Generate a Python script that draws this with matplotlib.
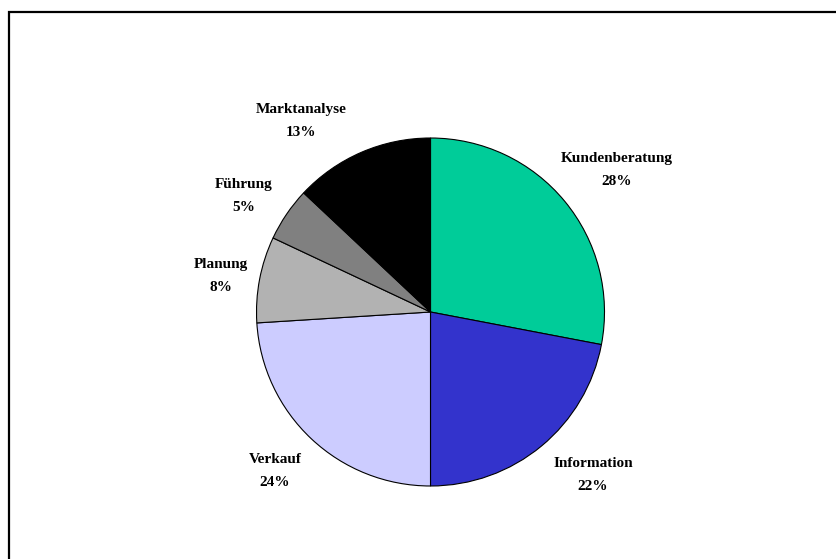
import matplotlib
matplotlib.use("Agg")
import matplotlib.pyplot as plt
from matplotlib.lines import Line2D

# Share of working time per activity (percent)
categories = ["Kundenberatung", "Information", "Verkauf", "Planung", "Führung", "Marktanalyse"]
shares = [28, 22, 24, 8, 5, 13]
colors = ["#00CC99", "#3333CC", "#CCCCFF", "#B2B2B2", "#808080", "#000000"]

# label anchor points in pie units (radius = 1)
label_pos = [(1.072, 0.816), (0.934, -0.937), (-0.894, -0.914),
             (-1.204, 0.207), (-1.072, 0.667), (-0.744, 1.098)]

W, H, DPI = 836, 559, 100
fig = plt.figure(figsize=(W / DPI, H / DPI), dpi=DPI)
fig.patch.set_facecolor("white")

cx, cy, r = 430.5, 312.0, 174.0
ax = fig.add_axes([(cx - r) / W, (H - cy - r) / H, 2 * r / W, 2 * r / H])
ax.pie(shares, colors=colors, startangle=90, counterclock=False,
       wedgeprops=dict(edgecolor="black", linewidth=0.8))
ax.set_xlim(-1, 1)
ax.set_ylim(-1, 1)
ax.set_aspect("equal")
ax.axis("off")

for name, val, (x, y) in zip(categories, shares, label_pos):
    ax.text(x, y, f"{name}\n{val}%", ha="center", va="center",
            family="Liberation Serif", fontweight="bold", fontsize=11,
            linespacing=1.95, clip_on=False)

# chart area frame (top and left edges)
fx = 9 / W
fy = 1 - 11.5 / H
fig.add_artist(Line2D([fx, fx, 1.0], [0.0, fy, fy], transform=fig.transFigure,
                      color="black", linewidth=1.6, solid_joinstyle="miter"))

fig.savefig("out.png", dpi=DPI)
